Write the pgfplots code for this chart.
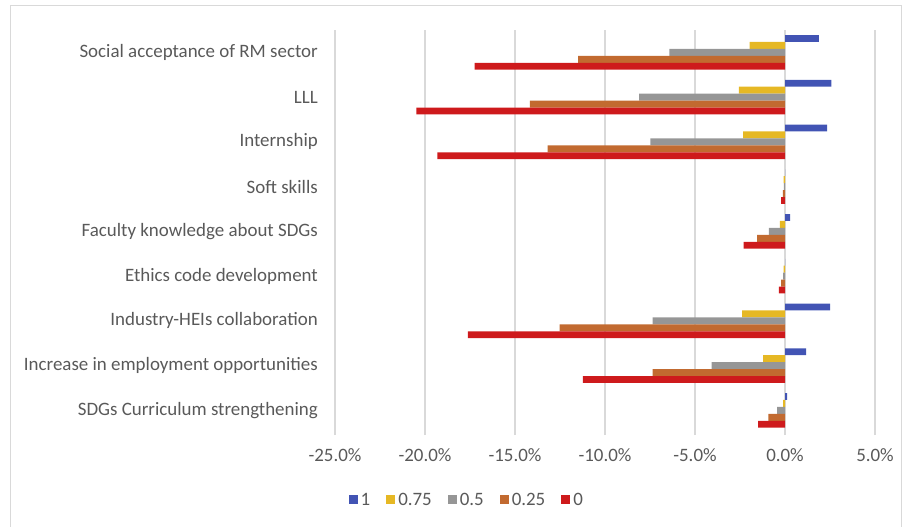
\documentclass[border=0pt]{standalone}
\usepackage{pgfplots}
\pgfplotsset{compat=1.18}
\usepackage{fontspec}
\setmainfont{Carlito}

\definecolor{sOne}{RGB}{66,84,180}
\definecolor{sThreeQ}{RGB}{230,184,36}
\definecolor{sHalf}{RGB}{150,150,150}
\definecolor{sQuarter}{RGB}{194,106,48}
\definecolor{sZero}{RGB}{206,26,28}
\definecolor{txtgray}{RGB}{89,89,89}
\definecolor{gridgray}{RGB}{217,217,217}

% rows run bottom (0) to top (8); values in percent
\pgfplotstableread{
y   one    threeq  half   quarter  zero
0   0.12   -0.10   -0.44  -0.93    -1.49
1   1.17   -1.21   -4.07  -7.36    -11.23
2   2.50   -2.38   -7.36  -12.52   -17.62
3   0.00   -0.08   -0.10  -0.22    -0.34
4   0.28   -0.28   -0.89  -1.55    -2.30
5   0.00   -0.08   -0.06  -0.12    -0.22
6   2.34   -2.32   -7.48  -13.19   -19.31
7   2.58   -2.56   -8.11  -14.17   -20.48
8   1.88   -1.96   -6.43  -11.50   -17.24
}\datatable

\begin{document}
\begin{tikzpicture}
\useasboundingbox (0,0) rectangle (903bp,527bp);
\draw[gridgray, line width=1.5bp] (10.5bp,521.5bp) rectangle (901.5bp,-30bp);
\begin{axis}[
    at={(335bp,92bp)}, anchor=south west,
    width=540bp, height=405bp, scale only axis,
    xbar, bar width=0.155,
    xmin=-25, xmax=5, ymin=-0.55, ymax=8.5,
    axis line style={draw=none},
    major tick length=0pt,
    xtick={-25,-20,...,5},
    xticklabels={-25.0\%,-20.0\%,-15.0\%,-10.0\%,-5.0\%,0.0\%,5.0\%},
    ytick={0,...,8},
    yticklabels={SDGs Curriculum strengthening,
        Increase in employment opportunities,
        Industry-HEIs collaboration,
        Ethics code development,
        Faculty knowledge about SDGs,
        Soft skills,
        Internship,
        LLL,
        Social acceptance of RM sector},
    xmajorgrids,
    grid style={gridgray, line width=1.3bp},
    tick label style={font=\fontsize{19}{22}\selectfont, text=txtgray},
    yticklabel style={inner sep=0pt, xshift=-17bp},
    xticklabel style={inner sep=0pt, yshift=-13bp},
    legend columns=5,
    legend image code/.code={\fill[#1] (0bp,-4.5bp) rectangle (9bp,4.5bp);},
    legend style={draw=none, fill=none,
        font=\fontsize{19}{22}\selectfont, text=txtgray,
        at={(rel axis cs:0.245,-0.160)}, anchor=center,
        nodes={inner sep=3bp},
        /tikz/every odd column/.append style={column sep=0bp},
        /tikz/every even column/.append style={column sep=13bp}},
    legend cell align=left,
]
\addplot[fill=sOne, draw=none, bar shift=0.31] table[x=one, y=y] {\datatable};
\addplot[fill=sThreeQ, draw=none, bar shift=0.155] table[x=threeq, y=y] {\datatable};
\addplot[fill=sHalf, draw=none, bar shift=0] table[x=half, y=y] {\datatable};
\addplot[fill=sQuarter, draw=none, bar shift=-0.155] table[x=quarter, y=y] {\datatable};
\addplot[fill=sZero, draw=none, bar shift=-0.31] table[x=zero, y=y] {\datatable};
\legend{1,0.75,0.5,0.25,0}
\end{axis}
\end{tikzpicture}
\end{document}
